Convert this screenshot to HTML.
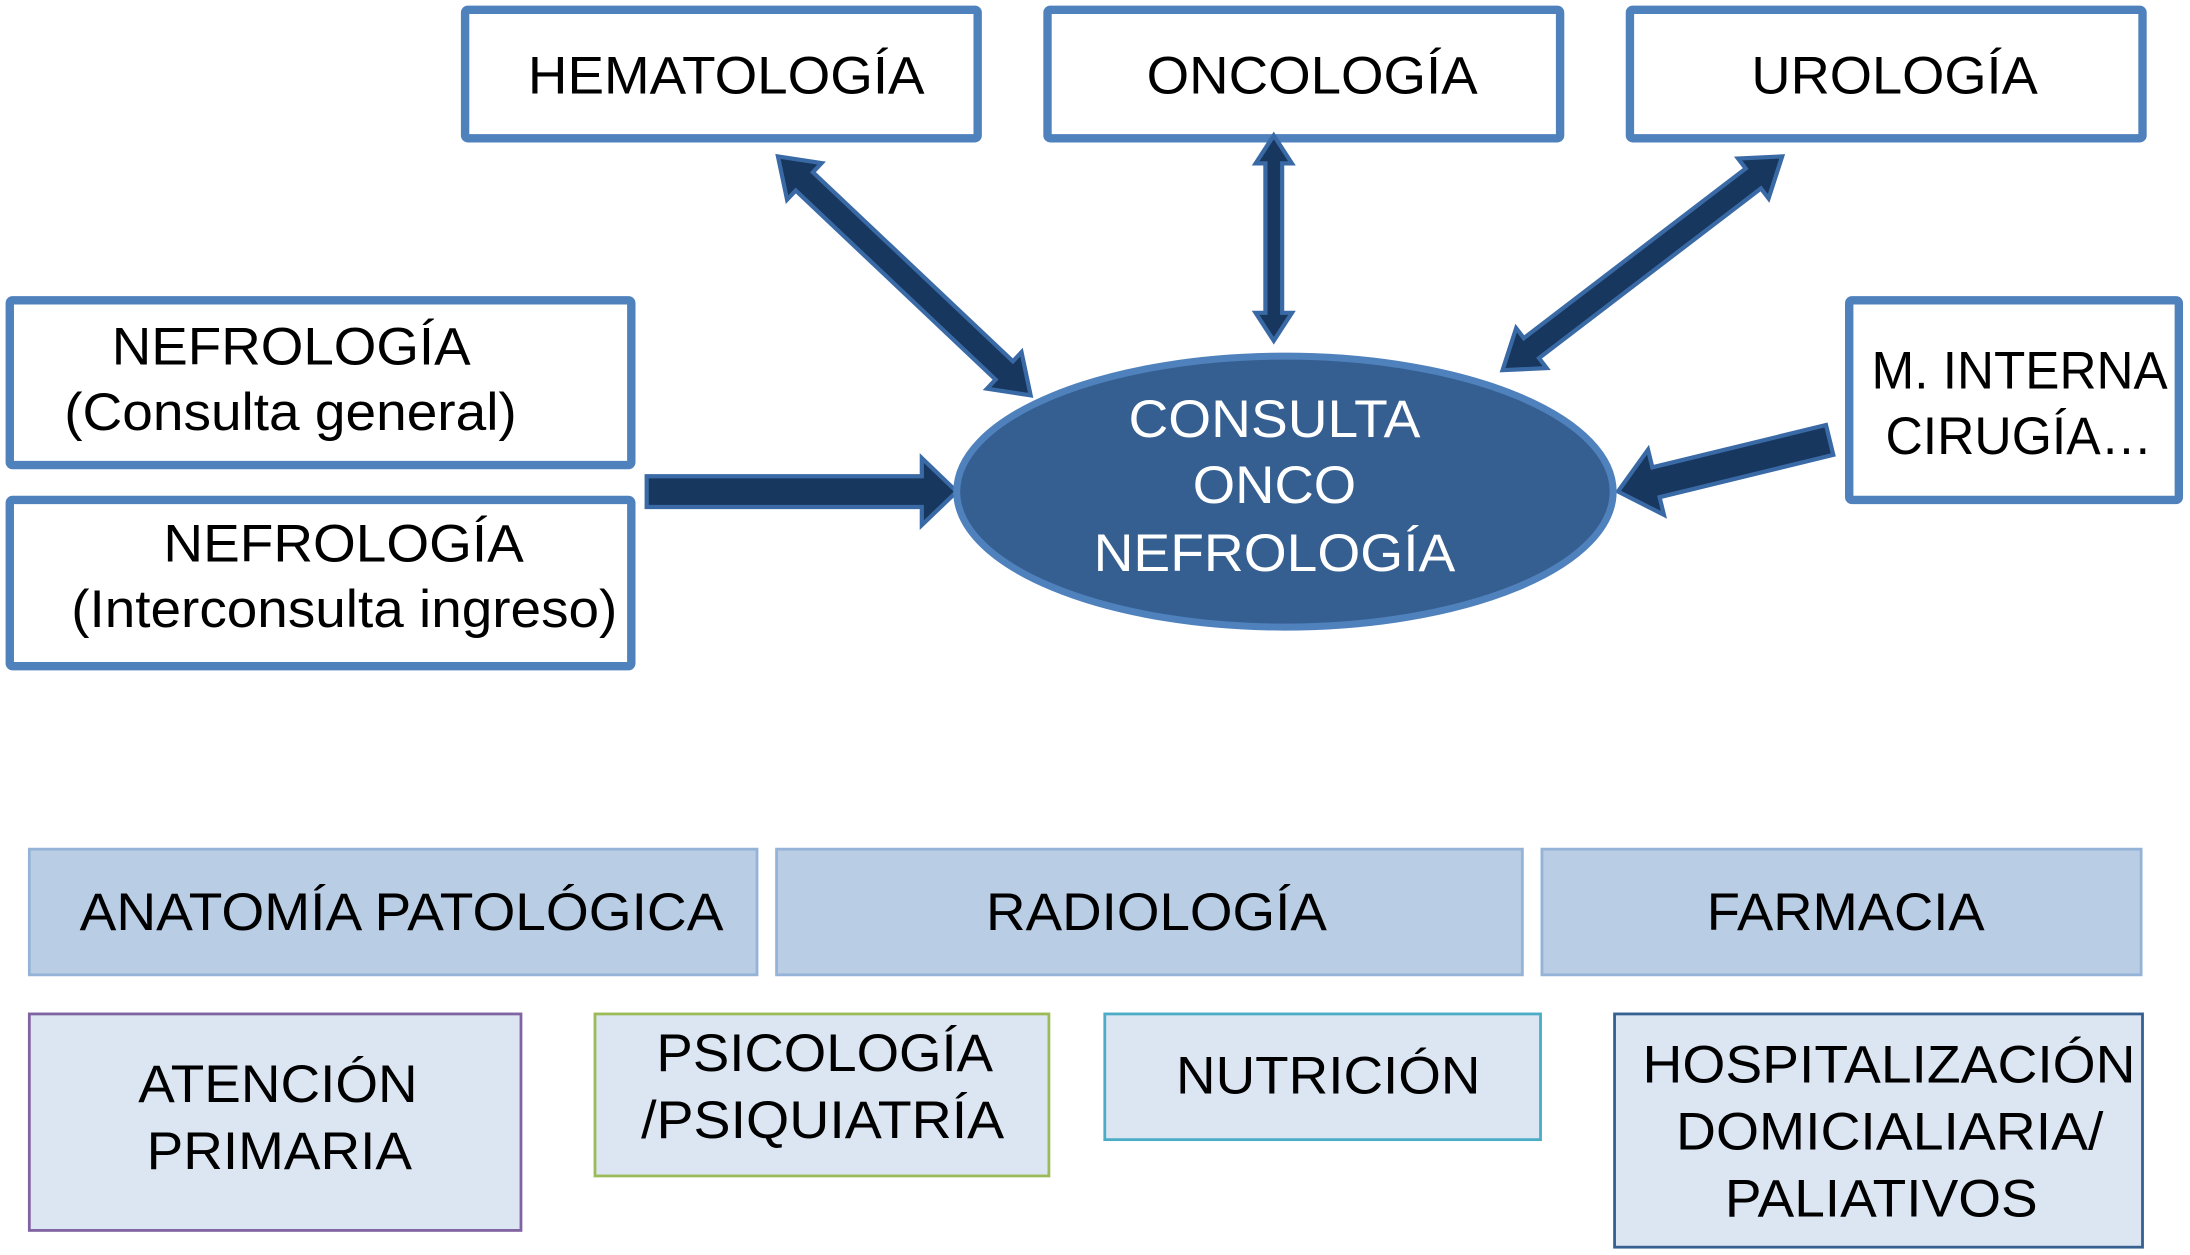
<!DOCTYPE html>
<html><head><meta charset="utf-8"><style>
html,body{margin:0;padding:0;background:#fff;}
svg{display:block;}
text{font-family:"Liberation Sans",sans-serif;font-size:38px;fill:#000;}
text.w{fill:#fff;}
</style></head><body>
<svg width="2190" height="1255" viewBox="0 0 1568 898.6" preserveAspectRatio="none" xmlns="http://www.w3.org/2000/svg">
<g fill="#fff" stroke="#4f81bd" stroke-width="6">
<rect x="333" y="7" width="367" height="92" rx="2"/>
<rect x="750" y="7" width="367" height="92" rx="2"/>
<rect x="1167" y="7" width="367" height="92" rx="2"/>
<rect x="7" y="215" width="445" height="118" rx="2"/>
<rect x="7" y="358" width="445" height="119" rx="2"/>
<rect x="1324" y="215" width="236" height="143" rx="2"/>
</g>
<g fill="#17375e" stroke="#3a6aa6" stroke-width="3" stroke-linejoin="miter">
<polygon transform="translate(557,112) rotate(43.4)" points="0,0 26,-18 26,-9 223,-9 223,-18 249,0 223,18 223,9 26,9 26,18"/>
<polygon transform="translate(912,97) rotate(90)" points="0,0 20,-13 20,-6 127,-6 127,-13 147,0 127,13 127,6 20,6 20,13"/>
<polygon transform="translate(1276,112) rotate(142.6)" points="0,0 26,-18 26,-9 226,-9 226,-18 252,0 226,18 226,9 26,9 26,18"/>
<polygon transform="translate(463,352)" points="0,-11 197,-11 197,-24 222,0 197,24 197,11 0,11"/>
<polygon transform="translate(1310,315) rotate(166.3)" points="0,-11 128,-11 128,-24 156,0 128,24 128,11 0,11"/>
</g>
<ellipse cx="920" cy="352" rx="235" ry="97" fill="#365f91" stroke="#4f81bd" stroke-width="5"/>
<text x="378" y="67" textLength="284" lengthAdjust="spacingAndGlyphs">HEMATOLOGÍA</text>
<text x="821" y="67" textLength="237" lengthAdjust="spacingAndGlyphs">ONCOLOGÍA</text>
<text x="1254" y="67" textLength="205" lengthAdjust="spacingAndGlyphs">UROLOGÍA</text>
<text x="80" y="261" textLength="257" lengthAdjust="spacingAndGlyphs">NEFROLOGÍA</text>
<text x="46" y="308" textLength="324" lengthAdjust="spacingAndGlyphs">(Consulta general)</text>
<text x="117" y="402" textLength="258" lengthAdjust="spacingAndGlyphs">NEFROLOGÍA</text>
<text x="51" y="449" textLength="391" lengthAdjust="spacingAndGlyphs">(Interconsulta ingreso)</text>
<text x="1340" y="278" textLength="212" lengthAdjust="spacingAndGlyphs">M. INTERNA</text>
<text x="1350" y="325" textLength="191" lengthAdjust="spacingAndGlyphs">CIRUGÍA…</text>
<text class="w" style="fill:#fff" x="808" y="313" textLength="209" lengthAdjust="spacingAndGlyphs">CONSULTA</text>
<text class="w" style="fill:#fff" x="854" y="360" textLength="117" lengthAdjust="spacingAndGlyphs">ONCO</text>
<text class="w" style="fill:#fff" x="783" y="409" textLength="259" lengthAdjust="spacingAndGlyphs">NEFROLOGÍA</text>
<g fill="#b9cde5" stroke="#95b3d7" stroke-width="2">
<rect x="21" y="608" width="521" height="90"/>
<rect x="556" y="608" width="534" height="90"/>
<rect x="1104" y="608" width="429" height="90"/>
</g>
<g fill="#dce6f2" stroke-width="2">
<rect x="21" y="726" width="352" height="155" stroke="#8064a2"/>
<rect x="426" y="726" width="325" height="116" stroke="#9bbb59"/>
<rect x="791" y="726" width="312" height="90" stroke="#4bacc6"/>
<rect x="1156" y="726" width="378" height="167" stroke="#376092"/>
</g>
<text x="57" y="666" textLength="461" lengthAdjust="spacingAndGlyphs">ANATOMÍA PATOLÓGICA</text>
<text x="706" y="666" textLength="244" lengthAdjust="spacingAndGlyphs">RADIOLOGÍA</text>
<text x="1222" y="666" textLength="199" lengthAdjust="spacingAndGlyphs">FARMACIA</text>
<text x="99" y="789" textLength="200" lengthAdjust="spacingAndGlyphs">ATENCIÓN</text>
<text x="105" y="837" textLength="190" lengthAdjust="spacingAndGlyphs">PRIMARIA</text>
<text x="470" y="767" textLength="241" lengthAdjust="spacingAndGlyphs">PSICOLOGÍA</text>
<text x="459" y="815" textLength="260" lengthAdjust="spacingAndGlyphs">/PSIQUIATRÍA</text>
<text x="842" y="783" textLength="218" lengthAdjust="spacingAndGlyphs">NUTRICIÓN</text>
<text x="1176" y="775" textLength="353" lengthAdjust="spacingAndGlyphs">HOSPITALIZACIÓN</text>
<text x="1200" y="823" textLength="306" lengthAdjust="spacingAndGlyphs">DOMICIALIARIA/</text>
<text x="1235" y="871" textLength="224" lengthAdjust="spacingAndGlyphs">PALIATIVOS</text>
</svg>
</body></html>
